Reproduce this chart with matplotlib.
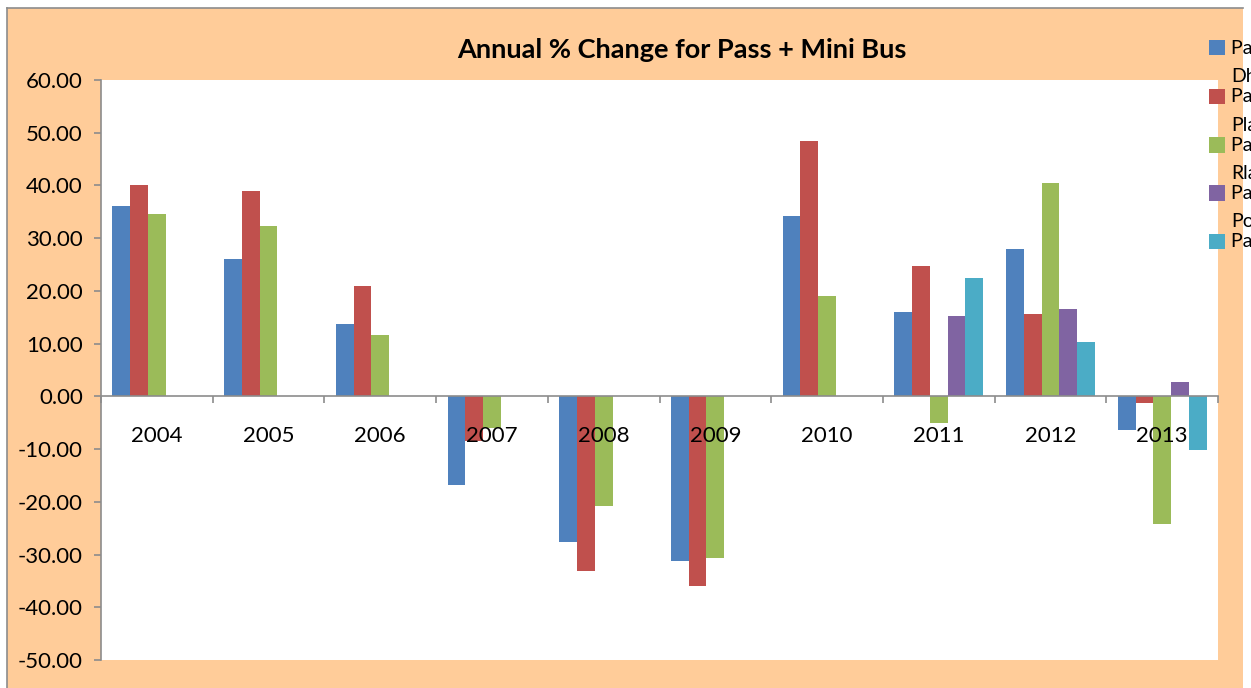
import numpy as np
import matplotlib.pyplot as plt
from matplotlib.patches import Rectangle
from matplotlib.lines import Line2D
from matplotlib.legend_handler import HandlerPatch

# data
years = ['2004', '2005', '2006', '2007', '2008', '2009', '2010', '2011', '2012', '2013']
series_names = ['Pass + Mini Bus',
                'Dhaka\nPass + Mini Bus',
                'Plains\nPass + Mini Bus',
                'Rlands\nPass + Mini Bus',
                'Ports\nPass + Mini Bus']
s1 = [36.1, 26.1, 13.7, -16.8, -27.7, -31.2, 34.2, 16.0, 27.9, -6.3]
s2 = [40.1, 39.0, 21.0, -8.5, -33.1, -36.0, 48.4, 24.7, 15.6, -1.2]
s3 = [34.6, 32.3, 11.6, -6.0, -20.8, -30.6, 19.0, -5.1, 40.5, -24.2]
s4 = [np.nan] * 7 + [15.2, 16.6, 2.7]
s5 = [np.nan] * 7 + [22.5, 10.3, -10.1]
colors = ['#4F81BD', '#C0504D', '#9BBB59', '#8064A2', '#4BACC6']
yticks = list(range(-50, 61, 10))

plt.rcParams['font.family'] = ['Lato', 'DejaVu Sans']


class LastLinePatch(HandlerPatch):
    # Excel puts the legend key next to the last line of a wrapped label
    def __init__(self, shift):
        super().__init__()
        self.shift = shift

    def create_artists(self, legend, orig_handle, xdescent, ydescent,
                       width, height, fontsize, trans):
        p = Rectangle((-xdescent, -ydescent - self.shift), width, height,
                      facecolor=orig_handle.patches[0].get_facecolor(),
                      edgecolor='none', transform=trans)
        return [p]


W, H = 1251, 688
fig = plt.figure(figsize=(W / 100, H / 100), dpi=100)
fig.patch.set_facecolor('white')

# orange chart area with grey border on left / top
fig.add_artist(Rectangle((7 / W, -0.1), (1243 - 7) / W, (H - 8) / H + 0.1,
                         transform=fig.transFigure, facecolor='#FFCC99',
                         edgecolor='none', zorder=0))
fig.add_artist(Line2D([7 / W, 7 / W], [0, (H - 8) / H], transform=fig.transFigure,
                      color='#8C8C8C', lw=1.2))
fig.add_artist(Line2D([7 / W, 1243 / W], [(H - 8) / H, (H - 8) / H],
                      transform=fig.transFigure, color='#8C8C8C', lw=1.2))

ax = fig.add_axes([101 / W, (H - 660) / H, (1218 - 101) / W, (660 - 80) / H])
ax.set_facecolor('white')

x = np.arange(len(years))
w = 0.159
data = [s1, s2, s3, s4, s5]
bars = []
for j, vals in enumerate(data):
    b = ax.bar(x + (j - 2) * w, vals, width=w, color=colors[j], label=series_names[j], zorder=1)
    bars.append(b)

ax.set_xlim(-0.5, len(years) - 0.5)
ax.set_ylim(-50, 60)
ax.set_yticks(yticks)
ax.set_yticklabels(['%.2f' % v for v in yticks])
ax.set_xticks(x)
ax.set_xticklabels(years)
ax.set_xticks(np.arange(-0.5, len(years)), minor=True)

for s in ['top', 'right']:
    ax.spines[s].set_visible(False)
ax.spines['bottom'].set_position(('data', 0))
ax.spines['bottom'].set_color('#8C8C8C')
ax.spines['left'].set_color('#8C8C8C')
ax.spines['bottom'].set_linewidth(1.2)
ax.spines['left'].set_linewidth(1.2)

ax.tick_params(axis='y', direction='out', length=5, width=1.2, color='#8C8C8C',
               pad=8, labelsize=16)
ax.tick_params(axis='x', which='major', length=0, pad=21, labelsize=16)
ax.tick_params(axis='x', which='minor', direction='out', length=5, width=1.2, color='#8C8C8C')

fig.text(682 / W, 1 - 50 / H, 'Annual % Change for Pass + Mini Bus',
         ha='center', va='center', fontsize=19.5, fontweight='bold')

hmap = {b: LastLinePatch(6.8 * name.count('\n')) for b, name in zip(bars, series_names)}
leg = fig.legend(bars, series_names, loc='upper left', bbox_to_anchor=(1191 / W, 1 - 22 / H),
                 frameon=False, fontsize=14, handlelength=0.85, handleheight=0.85,
                 handletextpad=0.3, labelspacing=0.59, handler_map=hmap)

fig.savefig('out.png', dpi=100, facecolor=fig.get_facecolor())
